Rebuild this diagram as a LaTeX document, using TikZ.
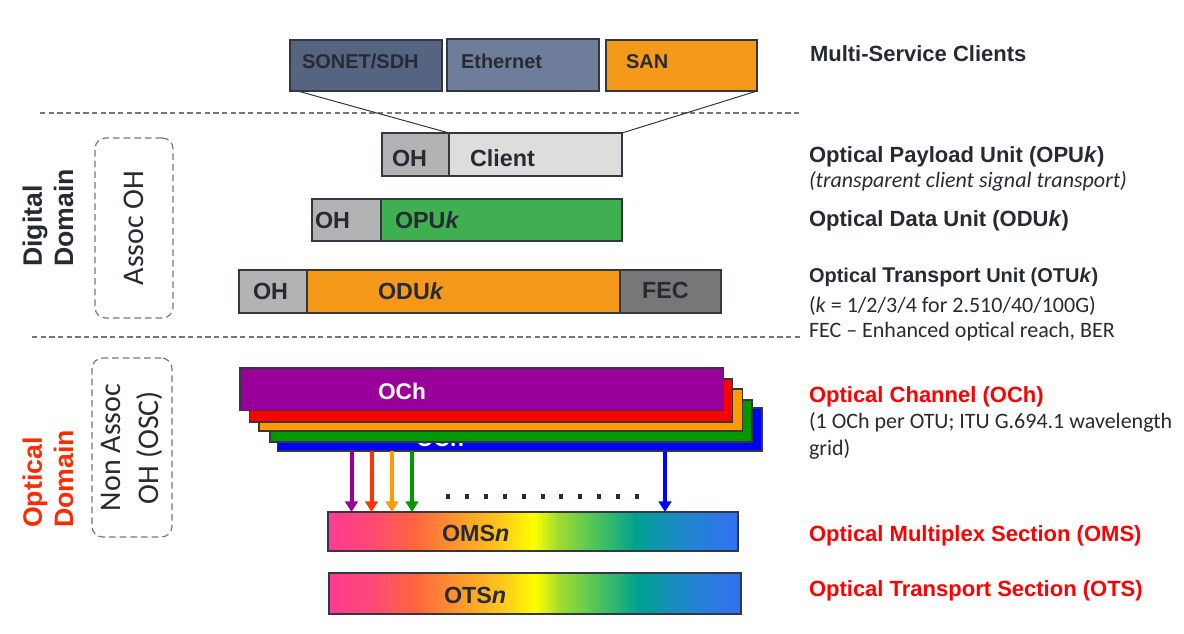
\documentclass[tikz,border=0pt]{standalone}
\usepackage{fontspec}
\setmainfont{Liberation Sans}
\newfontfamily\calib{Carlito}
\usetikzlibrary{arrows.meta,fit,calc}
\definecolor{txtc}{HTML}{262B33}
\definecolor{boxline}{HTML}{333840}
\definecolor{sonetc}{HTML}{566482}
\definecolor{ethc}{HTML}{6E7D99}
\definecolor{sanc}{HTML}{F5991A}
\definecolor{ohc}{HTML}{B3B3B3}
\definecolor{clientc}{HTML}{DDDDDD}
\definecolor{opuc}{HTML}{40AF52}
\definecolor{fecc}{HTML}{777777}
\definecolor{ochP}{HTML}{990099}
\definecolor{ochR}{HTML}{FF0000}
\definecolor{ochO}{HTML}{FF9900}
\definecolor{ochG}{HTML}{009900}
\definecolor{ochB}{HTML}{0000FF}
\definecolor{arrR}{HTML}{FF3300}
\definecolor{optred}{HTML}{FF2A00}
\definecolor{dashc}{HTML}{777777}
\definecolor{g0}{HTML}{FF3A94}
\definecolor{g1}{HTML}{FF4A72}
\definecolor{g2}{HTML}{FF6540}
\definecolor{g3}{HTML}{FF9A2A}
\definecolor{g4}{HTML}{FFC81A}
\definecolor{g5}{HTML}{FFFF00}
\definecolor{g6}{HTML}{A0DC30}
\definecolor{g7}{HTML}{5FCB50}
\definecolor{g8}{HTML}{00A090}
\definecolor{g9}{HTML}{1E88C8}
\definecolor{g10}{HTML}{3370F5}
\tikzset{
  blk/.style={draw=boxline, line width=0.9pt, inner sep=0pt, outer sep=0pt},
  lab/.style={inner sep=0pt, outer sep=0pt, anchor=base west, text=txtc},
  toplab/.style={lab, font=\bfseries\fontsize{15}{18}\selectfont},
  rowlab/.style={lab, font=\bfseries\fontsize{17.5}{20}\selectfont},
  rbold/.style={lab, font=\bfseries\fontsize{16.5}{20}\selectfont},
  rreg/.style={lab, font=\calib\fontsize{16.5}{20}\selectfont},
  sepline/.style={dashc, line width=0.9pt, dash pattern=on 4pt off 2.5pt},
  ohbox/.style={draw=dashc, line width=0.9pt, dash pattern=on 5pt off 3pt, rounded corners=8pt, inner sep=0pt},
  conn/.style={boxline, line width=0.75pt},
  warr/.style={line width=3pt, -{Triangle[width=9.5pt,length=8pt]}},
}
\begin{document}
\begin{tikzpicture}[x=0.75pt,y=-0.75pt]
\useasboundingbox (0,0) rectangle (1184,634);

% separators
\coordinate (s1a) at (40,113); \coordinate (s1b) at (800,113);
\coordinate (s2a) at (32,337); \coordinate (s2b) at (800,337);
\draw[sepline] (s1a) -- (s1b);
\draw[sepline] (s2a) -- (s2b);

% client boxes
\node[blk, fill=sonetc, fit={(290,40) (442,91)}] (sonet) {};
\node[blk, fill=ethc, fit={(447,39) (599,91)}] (eth) {};
\node[blk, fill=sanc, fit={(606,40) (757,91)}] (san) {};
\node[toplab] (tsonet) at (302,69) {SONET/SDH};
\node[toplab] (teth) at (461,69) {Ethernet};
\node[toplab] (tsan) at (626,69) {SAN};

% OPU row
\node[blk, fill=ohc, fit={(382,133) (449,176)}] (oh1) {};
\node[blk, fill=clientc, fit={(449,133) (622,176)}] (client) {};
\node[rowlab] (toh1) at (392,166.5) {OH};
\node[rowlab] (tclient) at (470,167) {Client};

\draw[conn] ($(sonet.south west)!0.05!(sonet.south east)$) -- (client.north west);
\draw[conn] (san.south east) -- (client.north east);

% ODU row
\node[blk, fill=ohc, fit={(312,199) (381,241)}] (oh2) {};
\node[blk, fill=opuc, fit={(381,199) (622,241)}] (opu) {};
\node[rowlab] (toh2) at (315,229) {OH};
\node[rowlab] (topu) at (395,229) {OPU\textit{k}};

% OTU row
\node[blk, fill=ohc, fit={(239,270) (307,313)}] (oh3) {};
\node[blk, fill=sanc, fit={(307,270) (620,313)}] (odu) {};
\node[blk, fill=fecc, fit={(620,270) (721,313)}] (fec) {};
\node[rowlab] (toh3) at (253,299.5) {OH};
\node[rowlab] (todu) at (378,299.5) {ODU\textit{k}};
\node[rowlab] (tfec) at (642,299) {FEC};

% OCh stack
\node[blk, fill=ochB, fit={(277.5,408) (762,451)}] (ochb) {};
\node[rowlab, text=white, font=\bfseries\fontsize{17}{20}\selectfont] (tochb) at (416,446) {OCh};
\node[blk, fill=ochG, fit={(270,400) (752,442)}] (ochg) {};
\node[blk, fill=ochO, fit={(259,389) (742.5,431)}] (ocho) {};
\node[blk, fill=ochR, fit={(249.5,379) (732.5,422)}] (ochr) {};
\node[blk, fill=ochP, fit={(240,368) (723.5,410.5)}] (ochp) {};
\node[rowlab, text=white, font=\bfseries\fontsize{17}{20}\selectfont] (tochp) at (378,399) {OCh};

% OMS / OTS gradient bars
\foreach \xa/\xb/\ya/\yb in {328/738/512/551, 329/741/573/614}{
  \foreach \ca/\cb/\pa/\pb in {g0/g1/0/0.11, g1/g2/0.11/0.21, g2/g3/0.21/0.32, g3/g4/0.32/0.42, g4/g5/0.42/0.50, g5/g6/0.50/0.56, g6/g7/0.56/0.63, g7/g8/0.63/0.75, g8/g9/0.75/0.86, g9/g10/0.86/1}{
    \shade[left color=\ca, right color=\cb] ({\xa+(\xb-\xa)*\pa},\ya) rectangle ({min(\xa+(\xb-\xa)*\pb+0.6,\xb)},\yb);
  }
}
\node[blk, fit={(328,512) (738,551)}] (oms) {};
\node[blk, fit={(329,573) (741,614)}] (ots) {};
\node[rowlab] (toms) at (442,541.5) {OMS\textit{n}};
\node[rowlab] (tots) at (444,603) {OTS\textit{n}};

% wavelength arrows
\coordinate (a1) at (351.5,451);
\coordinate (a2) at (371.5,451);
\coordinate (a3) at (392,451);
\coordinate (a4) at (412,451);
\coordinate (a5) at (665,451);
\draw[warr, ochP] (a1) -- (a1 |- oms.north);
\draw[warr, arrR] (a2) -- (a2 |- oms.north);
\draw[warr, ochO] (a3) -- (a3 |- oms.north);
\draw[warr, ochG] (a4) -- (a4 |- oms.north);
\draw[warr, ochB] (a5) -- (a5 |- oms.north);
\foreach \i in {0,...,10}{
  \fill[txtc] ({448+18.9*\i-2},494) rectangle +(4,4.5);
}

% left labels
\node[rotate=90, align=left, text=txtc, font=\bfseries\fontsize{20}{23.5}\selectfont, inner sep=0pt] (digdom) at (48,218) {Digital\\Domain};
\node[rotate=90, align=left, text=optred, font=\bfseries\fontsize{20}{23.5}\selectfont, inner sep=0pt] (optdom) at (48,479) {Optical\\Domain};
\node[ohbox, fit={(95,138) (173,318)}] (assocbox) {};
\node[rotate=90, text=txtc, font=\calib\fontsize{22.5}{29}\selectfont, inner sep=0pt] (assoc) at (assocbox.center) {Assoc OH};
\node[ohbox, fit={(92,358) (172,537)}] (nonbox) {};
\node[rotate=90, align=center, text=txtc, font=\calib\fontsize{22.5}{29}\selectfont, inner sep=0pt] (nonassoc) at (nonbox.center) {Non Assoc\\OH (OSC)};

% right descriptions
\node[rbold] (r0) at (810,61.5) {Multi-Service Clients};
\node[rbold] (r1) at (809,163) {Optical Payload Unit (OPU\textit{k})};
\node[rreg, font=\calib\itshape\fontsize{16.5}{20}\selectfont] (r2) at (809,188) {(transparent client signal transport)};
\node[rbold] (r3) at (809,226.5) {Optical Data Unit (ODU\textit{k})};
\node[rbold, font=\bfseries\fontsize{15}{20}\selectfont] (r4) at (809,282.5) {Optical {\fontsize{16}{20}\selectfont Transport} Unit (OTU\textit{k})};
\node[rreg] (r5) at (809,312.5) {(\textit{k} = 1/2/3/4 for 2.510/40/100G)};
\node[rreg] (r6) at (809,337.5) {FEC – Enhanced optical reach, BER};
\node[rbold, text=red] (r7) at (809,402) {Optical Channel (OCh)};
\node[rreg] (r8) at (809,428) {(1 OCh per OTU; ITU G.694.1 wavelength};
\node[rreg] (r9) at (809,455) {grid)};
\node[rbold, text=red] (r10) at (809,541) {Optical Multiplex Section (OMS)};
\node[rbold, text=red] (r11) at (809,596.5) {Optical Transport Section (OTS)};
\end{tikzpicture}
\end{document}
